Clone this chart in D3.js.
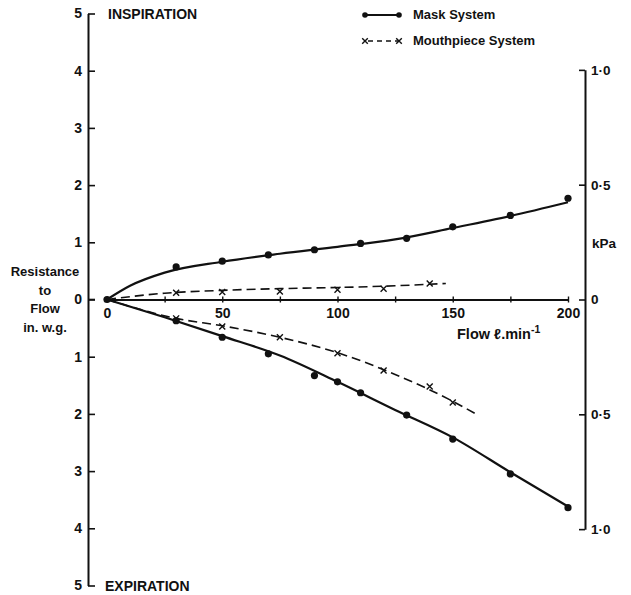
<!DOCTYPE html>
<html><head><meta charset="utf-8">
<script src="https://cdn.jsdelivr.net/npm/d3@7/dist/d3.min.js"></script>
<style>
body{margin:0;background:#fff;}
svg text{font-family:"Liberation Sans",Arial,sans-serif;fill:#111;}
</style></head>
<body><svg id="c" width="631" height="595"></svg>
<script>
// ---- data (flow l/min, resistance in. w.g.; expiration negative) ----
const flowTicks = [0,25,50,75,100,125,150,175,200];
const flowLabels = [0,50,100,150,200];
const resistTicks = [-5,-4,-3,-2,-1,0,1,2,3,4,5];
const kpaTicks = [-1,-0.5,0,0.5,1];
const inWgPerKpa = 4.0146;

const maskInspPts = [[0,0],[30,0.57],[50,0.67],[70,0.78],[90,0.87],[110,0.98],[130,1.07],[150,1.27],[175,1.47],[200,1.77]];
const maskExpPts  = [[30,-0.37],[50,-0.66],[70,-0.95],[90,-1.33],[100,-1.44],[110,-1.63],[130,-2.02],[150,-2.44],[175,-3.05],[200,-3.64]];
const mouthInspPts = [[30,0.12],[50,0.13],[75,0.14],[100,0.17],[120,0.19],[140,0.28]];
const mouthExpPts  = [[30,-0.33],[50,-0.47],[75,-0.66],[100,-0.94],[120,-1.24],[140,-1.52],[150,-1.80]];

// fitted curves as drawn in the figure
const maskInspCurve = [[0,0],[10,0.24],[25,0.47],[50,0.66],[75,0.8],[100,0.92],[125,1.05],[150,1.25],[175,1.46],[200,1.70]];
const maskExpCurve  = [[0,0],[25,-0.31],[50,-0.64],[75,-0.98],[100,-1.44],[125,-1.93],[150,-2.41],[175,-3.02],[200,-3.62]];
const mouthInspCurve = [[0,0],[25,0.11],[50,0.16],[75,0.19],[100,0.21],[125,0.24],[147,0.28]];
const mouthExpCurve  = [[0,0],[30,-0.33],[50,-0.46],[75,-0.66],[100,-0.93],[125,-1.31],[150,-1.78],[160,-2.0]];

const legendItems = ["Mask System","Mouthpiece System"];

// ---- drawing ----
const svg = d3.select("#c");
const ink = "#111";
const x = d3.scaleLinear().domain([0,200]).range([107,568]);
const y = d3.scaleLinear().domain([-5,5]).range([585.5,13.5]);
const yk = d3.scaleLinear().domain([-1,1]).range([y(-inWgPerKpa), y(inWgPerKpa)]);

// left axis
const gl = svg.append("g").attr("transform","translate(88,0)")
  .call(d3.axisLeft(y).tickValues(resistTicks).tickSize(-7).tickSizeOuter(0).tickPadding(6)
        .tickFormat(d=>String(Math.abs(d))));
gl.select(".domain").attr("stroke",ink).attr("stroke-width",2);
gl.selectAll(".tick line").attr("stroke",ink).attr("stroke-width",1.6);
gl.selectAll(".tick text").attr("font-size",14).attr("font-weight","bold").attr("fill",ink);

// right axis (kPa)
const gr = svg.append("g").attr("transform","translate(585,0)")
  .call(d3.axisRight(yk).tickValues(kpaTicks).tickSize(-6).tickSizeOuter(0).tickPadding(6)
        .tickFormat(d=> d===0 ? "0" : d3.format(".1f")(Math.abs(d)).replace(".","·")));
gr.select(".domain").attr("stroke",ink).attr("stroke-width",2);
gr.selectAll(".tick line").attr("stroke",ink).attr("stroke-width",1.6);
gr.selectAll(".tick text").attr("font-size",13.5).attr("font-weight","bold").attr("fill",ink);
gr.append("text").attr("x",7).attr("y",y(1.0)+6).attr("font-size",13.5).attr("font-weight","bold").attr("fill",ink).text("kPa");

// x axis
const gx = svg.append("g").attr("transform",`translate(0,${y(0)})`)
  .call(d3.axisBottom(x).tickValues(flowTicks).tickSize(3).tickSizeOuter(0).tickPadding(6)
        .tickFormat(d=> flowLabels.includes(d) ? String(d) : ""));
gx.select(".domain").attr("stroke",ink).attr("stroke-width",1.8);
gx.selectAll(".tick line").attr("stroke",ink).attr("stroke-width",1.4).attr("y1",-3);
gx.selectAll(".tick text").attr("font-size",14).attr("font-weight","bold").attr("fill",ink);
// left stub of zero line
svg.append("line").attr("x1",88).attr("x2",95).attr("y1",y(0)).attr("y2",y(0)).attr("stroke",ink).attr("stroke-width",1.6);

// axis labels
const xl = svg.append("text").attr("x",457).attr("y",339).attr("font-size",14.5).attr("font-weight","bold").attr("fill",ink);
xl.append("tspan").text("Flow ℓ.min");
xl.append("tspan").attr("font-size",10.5).attr("dy",-6).text("-1");

const ylab = ["Resistance","to","Flow","in. w.g."];
svg.append("g").selectAll("text").data(ylab).join("text")
  .attr("x",45).attr("y",(d,i)=>276+i*18.7).attr("text-anchor","middle")
  .attr("font-size",13).attr("font-weight","bold").attr("fill",ink).text(d=>d);

svg.append("text").attr("x",108).attr("y",19).attr("font-size",14).attr("font-weight","bold").attr("fill",ink).text("INSPIRATION");
svg.append("text").attr("x",105).attr("y",591).attr("font-size",14).attr("font-weight","bold").attr("fill",ink).text("EXPIRATION");

// curves
const line = d3.line().x(d=>x(d[0])).y(d=>y(d[1])).curve(d3.curveMonotoneX);
[maskInspCurve, maskExpCurve].forEach(c=>{
  svg.append("path").attr("d",line(c)).attr("fill","none").attr("stroke",ink).attr("stroke-width",2.2);
});
[mouthInspCurve, mouthExpCurve].forEach(c=>{
  svg.append("path").attr("d",line(c)).attr("fill","none").attr("stroke",ink).attr("stroke-width",1.6).attr("stroke-dasharray","9,5");
});

// markers
function dots(pts){
  svg.append("g").selectAll("circle").data(pts).join("circle")
    .attr("cx",d=>x(d[0])).attr("cy",d=>y(d[1])).attr("r",3.6).attr("fill",ink);
}
function crosses(pts){
  const s=3;
  svg.append("g").selectAll("path").data(pts).join("path")
    .attr("d",d=>{const cx=x(d[0]),cy=y(d[1]);return `M${cx-s},${cy-s}L${cx+s},${cy+s}M${cx+s},${cy-s}L${cx-s},${cy+s}`;})
    .attr("stroke",ink).attr("stroke-width",1.4).attr("fill","none");
}
dots(maskInspPts); dots(maskExpPts);
crosses(mouthInspPts); crosses(mouthExpPts);

// legend
const lg = svg.append("g");
const lx1 = 365, lx2 = 399;
lg.append("line").attr("x1",lx1).attr("x2",lx2).attr("y1",15).attr("y2",15).attr("stroke",ink).attr("stroke-width",1.8);
lg.selectAll("circle").data([lx1,lx2]).join("circle").attr("cx",d=>d).attr("cy",15).attr("r",2.8).attr("fill",ink);
lg.append("line").attr("x1",lx1).attr("x2",lx2).attr("y1",41).attr("y2",41).attr("stroke",ink).attr("stroke-width",1.5).attr("stroke-dasharray","5,4").attr("stroke-dashoffset",-3);
[lx1,lx2].forEach(cx=>{
  const s=2.8;
  lg.append("path").attr("d",`M${cx-s},${41-s}L${cx+s},${41+s}M${cx+s},${41-s}L${cx-s},${41+s}`).attr("stroke",ink).attr("stroke-width",1.4);
});
lg.selectAll("text").data(legendItems).join("text")
  .attr("x",413).attr("y",(d,i)=>19+i*26).attr("font-size",13).attr("font-weight","bold").attr("fill",ink).text(d=>d);
</script></body></html>
